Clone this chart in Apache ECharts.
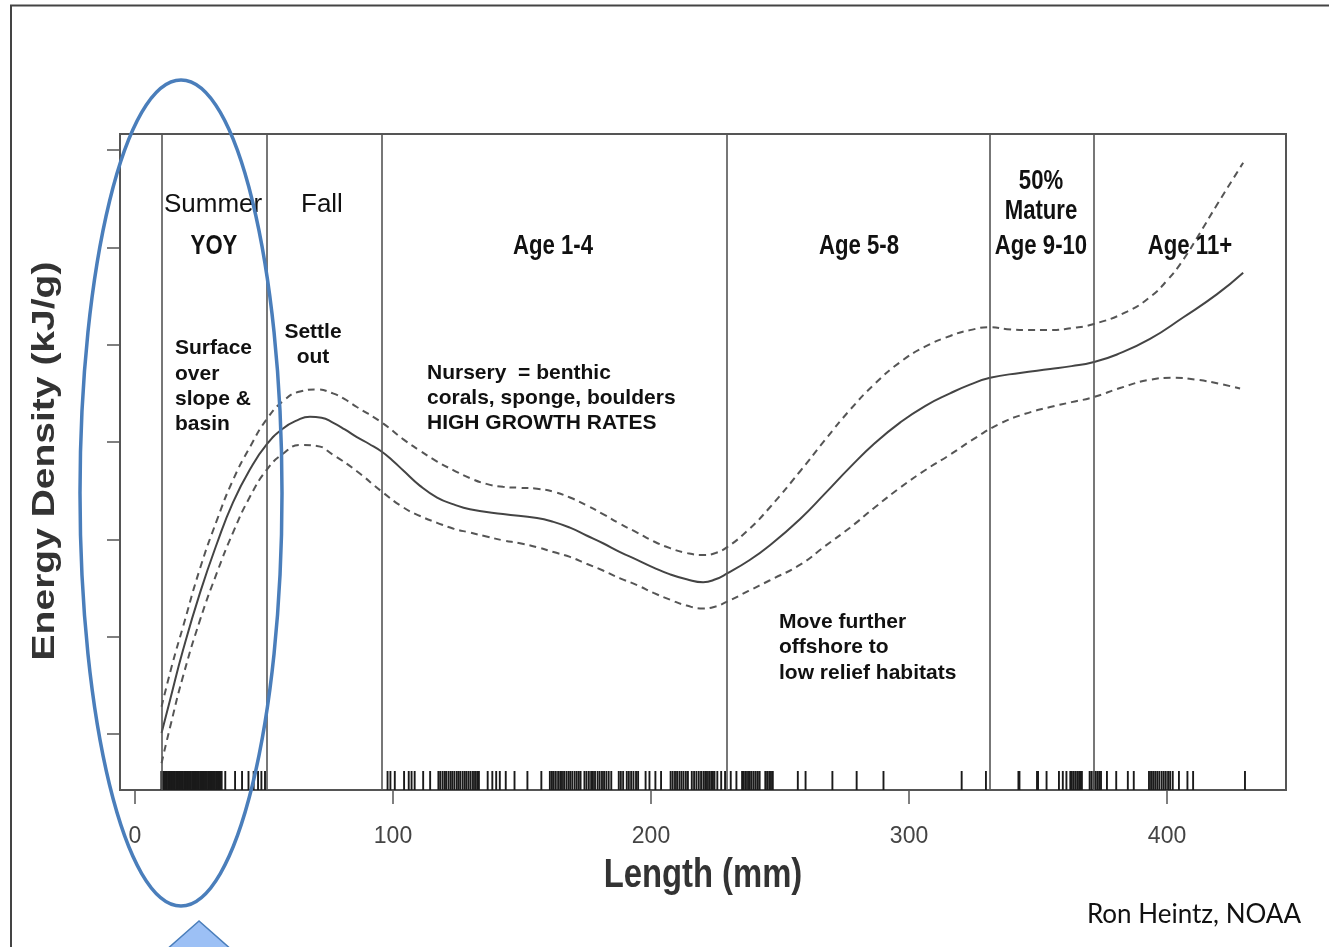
<!DOCTYPE html>
<html><head><meta charset="utf-8">
<script src="https://cdn.jsdelivr.net/npm/echarts@6/dist/echarts.min.js"></script>
<style>html,body{margin:0;padding:0;background:#fff;}#c{width:1329px;height:947px;}</style>
</head><body><div id="c"></div>
<script>
// ---- data ----
const fitLength = [10.3,13.6,18.6,25.2,31.8,38.0,44.6,51.2,57.4,62.6,67.8,72.3,76.7,81.3,86.0,90.8,95.7,99.8,103.9,110.5,117.1,123.5,129.8,142.6,155.8,162.2,168.6,175.0,181.4,188.0,194.6,201.0,207.4,213.8,220.2,225.0,229.5,237.8,246.1,257.8,267.4,277.1,286.8,296.5,306.2,315.9,323.6,331.4,343.0,354.7,363.0,371.3,380.6,393.4,406.2,419.4,429.5];
const fitEnergy = [0.01,0.35,0.86,1.45,1.96,2.38,2.72,2.98,3.14,3.22,3.26,3.25,3.20,3.13,3.05,2.98,2.90,2.81,2.71,2.55,2.43,2.36,2.31,2.26,2.22,2.18,2.12,2.04,1.96,1.87,1.79,1.71,1.64,1.59,1.56,1.59,1.65,1.78,1.94,2.21,2.47,2.74,2.99,3.20,3.37,3.50,3.59,3.66,3.71,3.75,3.78,3.82,3.90,4.06,4.28,4.52,4.74];
const upperLength = [10.3,14.5,18.6,25.2,31.8,38.0,44.6,51.2,57.4,64.0,70.5,76.7,81.3,86.0,95.7,103.9,110.5,117.1,123.5,129.8,136.2,142.6,149.2,155.8,162.2,168.6,175.0,181.4,188.0,194.6,201.0,207.4,213.8,220.2,225.0,229.5,237.8,246.1,257.8,267.4,277.1,286.8,296.5,306.2,315.9,323.6,331.4,338.0,346.0,354.7,363.0,371.3,384.5,393.4,400.0,406.2,412.8,419.4,429.5];
const upperEnergy = [0.28,0.72,1.10,1.70,2.20,2.61,2.95,3.24,3.42,3.52,3.54,3.50,3.44,3.36,3.20,3.03,2.91,2.80,2.71,2.63,2.57,2.54,2.53,2.52,2.49,2.43,2.35,2.26,2.16,2.07,1.98,1.91,1.86,1.84,1.86,1.92,2.10,2.33,2.70,3.02,3.33,3.60,3.82,3.98,4.09,4.15,4.18,4.16,4.15,4.15,4.17,4.21,4.34,4.49,4.66,4.87,5.15,5.44,5.87];
const lowerLength = [10.3,13.6,18.6,25.2,31.8,38.0,44.6,51.2,57.4,64.0,70.5,76.7,86.0,95.7,103.9,110.5,117.1,123.5,129.8,136.2,142.6,149.2,155.8,162.2,168.6,175.0,181.4,188.0,194.6,201.0,207.4,213.8,220.2,225.0,229.5,237.8,246.1,257.8,267.4,277.1,286.8,296.5,306.2,315.9,325.6,335.3,345.0,354.7,363.0,371.3,382.4,393.4,402.5,411.6,420.0,428.3];
const lowerEnergy = [-0.30,0.07,0.59,1.17,1.66,2.07,2.44,2.72,2.88,2.97,2.96,2.87,2.70,2.49,2.33,2.24,2.17,2.11,2.07,2.03,1.99,1.96,1.92,1.87,1.82,1.75,1.68,1.60,1.53,1.45,1.38,1.32,1.29,1.31,1.36,1.47,1.58,1.74,1.93,2.12,2.33,2.53,2.71,2.87,3.04,3.19,3.29,3.36,3.41,3.46,3.56,3.64,3.66,3.64,3.60,3.55];
const rugLengths = [10.2,10.7,11.1,11.6,12.0,12.4,12.9,13.3,13.8,14.2,14.7,15.1,15.5,16.0,16.4,16.9,17.3,17.8,18.2,18.6,19.1,19.5,20.0,20.4,20.9,21.3,21.7,22.2,22.6,23.1,23.5,24.0,24.4,24.8,25.3,25.7,26.2,26.6,27.1,27.5,27.9,28.4,28.8,29.3,29.7,30.2,30.6,31.0,31.5,31.9,32.4,32.8,33.3,33.6,
 35.0,38.8,41.5,44.0,46.0,47.7,49.0,50.4,
 97.9,99.0,100.7,104.3,106.1,107.2,108.4,111.7,114.4,117.6,118.3,119.2,120.0,120.6,121.5,122.3,123.0,123.8,124.7,125.4,126.1,127.0,127.8,128.5,129.3,130.1,131.0,131.8,132.6,133.3,
 136.7,138.5,140.0,141.4,143.7,147.1,152.1,157.5,160.8,161.6,162.3,163.1,164.0,164.8,165.5,166.3,167.2,168.0,168.7,169.5,170.4,171.2,172.0,172.7,
 174.2,175.0,175.9,176.8,177.5,178.3,179.3,180.1,181.0,181.8,182.7,183.6,184.6,187.5,188.3,189.2,190.6,191.4,192.3,193.2,194.2,195.0,197.9,199.4,201.7,203.9,
 207.6,208.4,209.3,210.1,211.0,211.8,212.6,213.5,214.3,215.8,216.7,217.6,218.5,219.4,220.3,221.0,221.7,222.5,223.3,224.0,224.6,225.7,227.2,228.7,230.9,233.1,
 235.3,236.0,236.8,237.6,238.3,239.0,239.8,240.6,241.4,242.1,244.3,245.0,245.8,246.5,247.2,256.9,259.9,270.3,279.7,290.1,320.4,329.8,342.4,342.8,349.6,350.0,353.3,
 358.1,359.6,361.0,362.5,363.1,363.8,364.5,365.2,365.9,366.5,367.0,370.0,370.7,371.5,372.3,373.0,373.7,374.4,376.7,380.3,384.8,387.1,
 393.0,393.8,394.6,395.4,396.2,397.0,397.9,398.7,399.5,400.4,401.2,402.2,404.6,407.9,410.1,430.2];
const sectionBounds = [10.3, 51.2, 95.7, 229.3, 331.4, 371.7];
const xTickValues = [0, 100, 200, 300, 400];
const yTickValues = [0, 1, 2, 3, 4, 5, 6];
const X_MIN = -5.8, X_MAX = 446.1, Y_MIN = -0.575, Y_MAX = 6.165;

const pairs = (xs, ys) => xs.map((x, i) => [x, ys[i]]);
const chart = echarts.init(document.getElementById('c'), null, {renderer: 'canvas'});
const SANS = '"Liberation Sans", Arial, sans-serif';
const BOLD = 'bold 21px ' + SANS;
const SEC = 'bold 27px ' + SANS;
function txt(text, x, y, font, align, extra) {
  return Object.assign({type: 'text', x: x, y: y, z: 50,
    style: {text: text, font: font, fill: '#111', textAlign: align || 'left', textVerticalAlign: 'middle'}}, extra || {});
}
const COND = {scaleX: 0.82};
const graphics = [
  {type: 'polyline', shape: {points: [[11, 960], [11, 5.5], [1340, 5.5]]}, style: {stroke: '#444', lineWidth: 2, fill: null}, z: 40},
  txt('Summer', 164, 205, '26px ' + SANS),
  txt('Fall', 301, 205, '26px ' + SANS),
  txt('YOY', 214, 247, SEC, 'center', COND),
  txt('Age 1-4', 553, 247, SEC, 'center', COND),
  txt('Age 5-8', 859, 247, SEC, 'center', COND),
  txt('50%', 1041, 182, SEC, 'center', COND),
  txt('Mature', 1041, 212, SEC, 'center', COND),
  txt('Age 9-10', 1041, 247, SEC, 'center', COND),
  txt('Age 11+', 1190, 247, SEC, 'center', COND),
  txt('Surface', 175, 348, BOLD), txt('over', 175, 374, BOLD), txt('slope &', 175, 399, BOLD), txt('basin', 175, 424, BOLD),
  txt('Settle', 313, 332, BOLD, 'center'), txt('out', 313, 357, BOLD, 'center'),
  txt('Nursery  = benthic', 427, 373, BOLD), txt('corals, sponge, boulders', 427, 398, BOLD), txt('HIGH GROWTH RATES', 427, 423, BOLD),
  txt('Move further', 779, 622, BOLD), txt('offshore to', 779, 647, BOLD), txt('low relief habitats', 779, 673, BOLD),
  txt('Ron Heintz, NOAA', 1301, 915, '26px Lato, "Open Sans", sans-serif', 'right'),
  {type: 'text', x: 703, y: 876, scaleX: 0.82, z: 50,
   style: {text: 'Length (mm)', font: 'bold 40px ' + SANS, fill: '#333', textAlign: 'center', textVerticalAlign: 'middle'}},
  {type: 'text', x: 45, y: 461, rotation: Math.PI / 2, scaleY: 0.82, z: 50,
   style: {text: 'Energy Density (kJ/g)', font: 'bold 39px ' + SANS, fill: '#333', textAlign: 'center', textVerticalAlign: 'middle'}},
  {type: 'ellipse', shape: {cx: 181, cy: 493, rx: 101, ry: 413}, style: {fill: null, stroke: '#4A7EBB', lineWidth: 3.5}, z: 60},
  {type: 'polygon', shape: {points: [[199, 921], [165, 951], [233, 951]]}, style: {fill: '#9CC0F5', stroke: '#4A7EBB', lineWidth: 1.5}, z: 60}
];

const option = {
  animation: false,
  backgroundColor: '#fff',
  grid: {left: 120, top: 134, right: 43, bottom: 157, show: true, borderColor: '#555', borderWidth: 2, backgroundColor: 'transparent'},
  xAxis: {
    type: 'value', min: X_MIN, max: X_MAX,
    axisLine: {show: true, onZero: false, lineStyle: {color: '#555', width: 2}},
    axisTick: {show: true, customValues: xTickValues, length: 14, lineStyle: {color: '#555', width: 1.5}},
    axisLabel: {customValues: xTickValues, margin: 35, fontFamily: SANS, fontSize: 23, color: '#444'},
    splitLine: {show: false}
  },
  yAxis: {
    type: 'value', min: Y_MIN, max: Y_MAX,
    axisLine: {show: true, onZero: false, lineStyle: {color: '#555', width: 2}},
    axisTick: {show: true, customValues: yTickValues, length: 13, lineStyle: {color: '#555', width: 1.5}},
    axisLabel: {show: false},
    splitLine: {show: false}
  },
  series: [
    {type: 'line', name: 'fit', data: pairs(fitLength, fitEnergy), showSymbol: false, smooth: 0.5,
     lineStyle: {color: '#444', width: 2}, z: 4,
     markLine: {silent: true, symbol: ['none', 'none'], label: {show: false},
       lineStyle: {color: '#555', width: 1.6, type: 'solid'},
       data: sectionBounds.map(v => ({xAxis: v}))}},
    {type: 'line', name: 'upper', data: pairs(upperLength, upperEnergy), showSymbol: false, smooth: 0.5,
     lineStyle: {color: '#555', width: 2, type: [7, 5]}, z: 4},
    {type: 'line', name: 'lower', data: pairs(lowerLength, lowerEnergy), showSymbol: false, smooth: 0.5,
     lineStyle: {color: '#555', width: 2, type: [7, 5]}, z: 4},
    {type: 'custom', name: 'rug', data: rugLengths.map(v => [v]), encode: {x: 0}, z: 3,
     renderItem: function (params, api) {
       const p = api.coord([api.value(0), Y_MIN]);
       return {type: 'line', shape: {x1: p[0], y1: p[1], x2: p[0], y2: p[1] - 19},
               style: {stroke: '#1a1a1a', lineWidth: 1.9}};
     }}
  ],
  graphic: graphics
};
chart.setOption(option);
</script></body></html>
